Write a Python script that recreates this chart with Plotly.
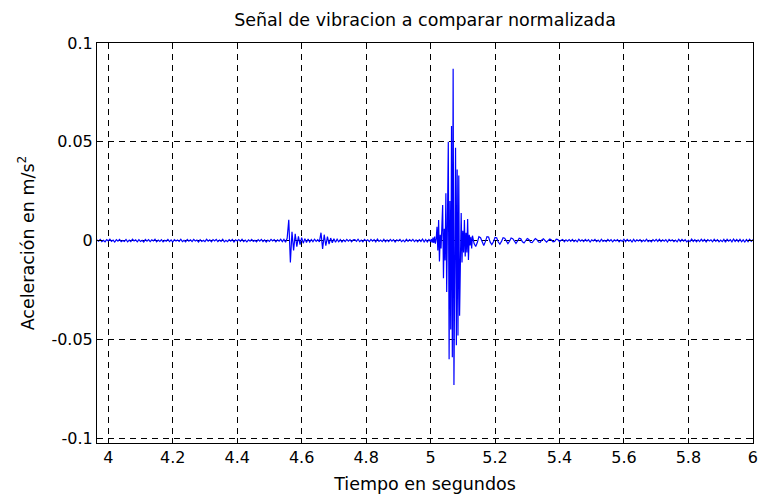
import numpy as np
import plotly.graph_objects as go

# ---------------- data (acceleration in milli m/s^2) -------------
# segment A: 3.965 s .. 4.995 s, sampled every 5 ms
seg_a_start, seg_a_step = 3.965, 0.005
seg_a_mm = [
    0.4, -0.3, 0.6, -0.5, 0.2, -0.6, 0.5, -0.2, 0.7, -0.4,
    0.3, -0.7, 0.5, -0.3, 0.6, -0.5, 0.1, -0.4, 0.6, -0.6,
    0.3, -0.5, 0.7, -0.2, 0.4, -0.6, 0.5, -0.4, 0.2, -0.7,
    0.6, -0.3, 0.5, -0.5, 0.4, -0.2, 0.7, -0.6, 0.3, -0.4,
    0.5, -0.6, 0.2, -0.3, 0.6, -0.5, 0.4, -0.7, 0.5, -0.2,
    0.3, -0.4, 0.7, -0.5, 0.2, -0.6, 0.6, -0.3, 0.4, -0.5,
    0.6, -0.2, 0.3, -0.7, 0.5, -0.4, 0.2, -0.5, 0.7, -0.3,
    0.4, -0.6, 0.5, -0.2, 0.6, -0.5, 0.3, -0.4, 0.7, -0.6,
    0.2, -0.5, 0.5, -0.3, 0.6, -0.7, 0.4, -0.2, 0.5, -0.4,
    0.7, -0.5, 0.3, -0.6, 0.4, -0.3, 0.6, -0.4, 0.2, -0.6,
    0.5, -0.3, 0.6, -0.5, 0.4, -0.7, 0.3, -0.4, 0.6, -0.2,
    0.5, -0.6, 0.4, -0.3, 0.7, -0.5, 0.6, -0.8, 1.2, 10.5,
    -11.0, 4.5, -5.0, 3.5, -3.0, 2.2, -2.0, 1.5, -1.3, 1.0,
    -0.9, 0.8, -0.7, 0.6, -0.5, 0.7, -0.4, 0.5, -0.6, 4.0,
    -4.2, 3.0, -2.6, 2.0, -1.8, 1.3, -1.1, 0.9, -0.8, 0.7,
    -0.6, 0.5, -0.7, 0.4, -0.5, 0.6, -0.3, 0.5, -0.6, 0.4,
    0.5, -0.4, 0.7, -0.5, 0.3, -0.6, 0.6, -0.2, 0.4, -0.5,
    0.6, -0.3, 0.5, -0.6, 0.8, -0.4, 0.3, -0.5, 0.7, -0.6,
    0.4, -0.5, 0.6, -0.3, 0.5, -0.7, 0.4, -0.2, 0.6, -0.5,
    0.3, -0.6, 0.7, -0.4, 0.5, -0.3, 0.6, -0.5, 0.4, -0.6,
    0.5, -0.4, 0.8, -0.6, 0.5, -0.7, 0.6,
]

# segment B: the main burst, 5.000 s .. 5.1275 s, sampled every 2.5 ms
seg_b_start, seg_b_step = 5.000, 0.0025
seg_b_mm = [
    -0.5, 0.8, -1.0, 1.5, -1.2, 2.0, -1.5, 1.0, 7.0, -5.0,
    10.4, -10.6, 3.0, -4.0, 8.0, 18.0, -19.0, 6.0, -10.0, 24.0,
    -26.0, 12.0, 50.0, -60.0, 20.0, -45.0, 58.0, -59.0, 87.0, -73.0,
    35.0, 47.0, -53.0, 36.0, -48.0, 33.0, -38.0, 10.0, 14.0, -11.0,
    5.0, -6.0, 10.4, -8.0, 4.0, -6.0, 11.0, -9.8, 3.0, -2.5,
    2.0, -4.0,
]

# segment C: decay and tail, 5.130 s .. 6.000 s, sampled every 5 ms
seg_c_start, seg_c_step = 5.130, 0.005
seg_c_mm = [
    2.5, -1.5, -3.0, -1.0, 2.0, 1.5, -1.0, -2.5, -0.5, 2.0,
    1.8, -0.8, -2.0, -0.6, 1.6, 1.4, -0.7, -1.8, -0.4, 1.5,
    1.2, -0.6, -1.5, -0.3, 1.3, 1.0, -0.5, -1.4, -0.2, 1.2,
    0.9, -0.6, -1.2, 0.2, 1.1, 0.6, -0.8, -1.0, 0.3, 1.0,
    0.5, -0.7, -0.9, 0.4, 0.9, -0.2, -0.8, 0.1, 0.8, 0.3,
    -0.6, -0.4, 0.7, 0.5, -0.5, 0.2, 0.6, -0.6, 0.4, -0.3,
    0.5, -0.4, 0.6, -0.5, 0.3, -0.6, 0.7, -0.3, 0.4, -0.5,
    0.6, -0.3, 0.5, -0.7, 0.4, -0.2, 0.6, -0.5, 0.3, -0.6,
    0.7, -0.4, 0.2, -0.5, 0.6, -0.3, 0.5, -0.6, 0.4, -0.2,
    0.5, -0.6, 0.3, -0.4, 0.7, -0.5, 0.6, -0.3, 0.4, -0.7,
    0.6, -0.5, 0.4, -0.2, 0.5, -0.6, 0.3, -0.4, 0.7, -0.5,
    0.2, -0.6, 0.5, -0.3, 0.6, -0.4, 0.7, -0.5, 0.4, -0.3,
    0.5, -0.7, 0.6, -0.2, 0.4, -0.5, 0.3, -0.6, 0.7, -0.4,
    0.6, -0.3, 0.5, -0.6, 0.2, -0.5, 0.8, -0.4, 0.5, -0.6,
    0.4, -0.5, 0.7, -0.3, 0.6, -0.7, 0.5, -0.2, 0.4, -0.6,
    0.7, -0.4, 0.5, -0.6, 0.3, -0.5, 0.6, -0.8, 0.7, -0.3,
    0.5, -0.6, 0.8, -0.4, 0.6, -0.5, 0.7, -0.6, 0.4, -0.7,
    0.6, -0.5, 0.7, -0.4, 0.5,
]

x_ticks = [4.0, 4.2, 4.4, 4.6, 4.8, 5.0, 5.2, 5.4, 5.6, 5.8, 6.0]
x_tick_labels = ["4", "4.2", "4.4", "4.6", "4.8", "5", "5.2", "5.4", "5.6", "5.8", "6"]
y_ticks = [-0.1, -0.05, 0.0, 0.05, 0.1]
y_tick_labels = ["-0.1", "-0.05", "0", "0.05", "0.1"]

title_text = "Señal de vibracion a comparar normalizada"
x_title = "Tiempo en segundos"
y_title = "Aceleración en m/s<sup>2</sup>"

# ---------------- assemble the sampled signal ----------------
def seg_time(start, step, vals):
    return start + step * np.arange(len(vals))

t = np.concatenate([
    seg_time(seg_a_start, seg_a_step, seg_a_mm),
    seg_time(seg_b_start, seg_b_step, seg_b_mm),
    seg_time(seg_c_start, seg_c_step, seg_c_mm),
])
acc = np.concatenate([seg_a_mm, seg_b_mm, seg_c_mm]) * 1e-3

FONT = "DejaVu Sans, Verdana, sans-serif"

fig = go.Figure()
fig.add_trace(go.Scatter(x=t, y=acc, mode="lines",
                         line=dict(color="#0000ff", width=1.2),
                         hoverinfo="skip", showlegend=False))

axis_common = dict(
    showline=True, linecolor="black", linewidth=1, mirror="allticks",
    ticks="inside", ticklen=5, tickcolor="black", tickwidth=1,
    showgrid=True, gridcolor="black", gridwidth=1, griddash="6px,5px",
    zeroline=False, tickfont=dict(family=FONT, size=16, color="black"),
    ticklabeloverflow="allow",
)

fig.update_layout(
    width=761, height=497,
    margin=dict(l=97, r=3, t=43, b=54),
    paper_bgcolor="white", plot_bgcolor="white",
    font=dict(family=FONT, size=16, color="black"),
    title=dict(text=title_text, x=0.5, xref="paper", xanchor="center",
               y=1 - 20 / 497, yref="container", yanchor="middle",
               font=dict(family=FONT, size=17.5, color="black")),
    xaxis=dict(range=[3.965, 6.0004], tickvals=x_ticks, ticktext=x_tick_labels,
               title=dict(text=x_title, standoff=11,
                          font=dict(family=FONT, size=17.5, color="black")),
               **axis_common),
    yaxis=dict(range=[-0.1024, 0.1], tickvals=y_ticks, ticktext=y_tick_labels,
               title=dict(text=y_title, standoff=12,
                          font=dict(family=FONT, size=17.5, color="black")),
               **axis_common),
)

fig.write_html("out.html")
